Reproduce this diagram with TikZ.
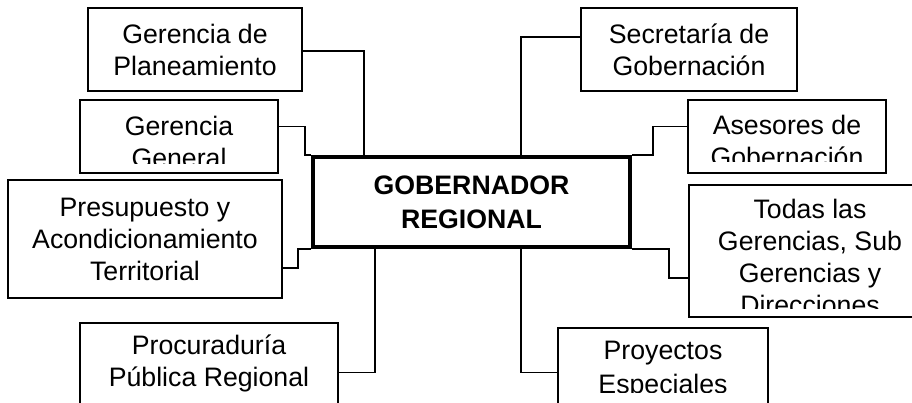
\documentclass[tikz,border=0pt]{standalone}
\usepackage{fontspec}
\setmainfont{Liberation Sans}
\begin{document}
\begin{tikzpicture}[x=1pt,y=-1pt,
                    caja/.style={draw,line width=1.2pt,inner sep=0pt,align=center,font=\fontsize{26.7}{32}\selectfont},
                    jefe/.style={draw,line width=4pt,inner sep=0pt,align=center,font=\bfseries\fontsize{26.7}{34}\selectfont},
                    texto/.style={inner sep=0pt,align=center,font=\fontsize{26.7}{32}\selectfont},
                    linea/.style={line width=1.2pt}]
                          \useasboundingbox (0,0) rectangle (912,403);
                          \clip (0,0) rectangle (912,403);
                          \node[jefe,minimum width=317pt,minimum height=90pt] (gob) at (471.5,202) {GOBERNADOR\\REGIONAL};
                          \node[caja,minimum width=214pt,minimum height=83pt] (plan) at (195,49.5) {Gerencia de\\Planeamiento};
                          \node[caja,minimum width=198pt,minimum height=73pt] (gen) at (179,136.5) {};
                          \node[caja,minimum width=274pt,minimum height=118pt] (pres) at (145,239) {Presupuesto y\\Acondicionamiento\\Territorial};
                          \node[caja,minimum width=258pt,minimum height=110pt] (proc) at (209,378) {};
                          \node[caja,minimum width=216pt,minimum height=83pt] (secr) at (689,49.5) {Secretaría de\\Gobernación};
                          \node[caja,minimum width=198pt,minimum height=73pt] (ases) at (787,136.5) {};
                          \node[caja,minimum width=242pt,minimum height=132pt] (todas) at (810,251) {};
                          \node[caja,minimum width=210pt,minimum height=110pt] (proy) at (663,383) {};
                          % textos recortados por la caja
                          \begin{scope}
                              \clip (gen.north west) rectangle ([yshift=10pt]gen.south east);
                              \node[texto,anchor=north] (tgen) at ([yshift=-17pt]gen.north) {Gerencia\\General};
                          \end{scope}
                          \begin{scope}
                              \clip (ases.north west) rectangle ([yshift=12pt]ases.south east);
                              \node[texto,anchor=north] (tases) at ([yshift=-16pt]ases.north) {Asesores de\\Gobernación};
                          \end{scope}
                          \begin{scope}
                              \clip (todas.north west) rectangle ([yshift=9pt]todas.south east);
                              \node[texto,anchor=north] (ttodas) at ([yshift=-15pt]todas.north) {Todas las\\Gerencias, Sub\\Gerencias y\\Direcciones};
                          \end{scope}
                          \begin{scope}
                              \clip (proy.north west) rectangle ([yshift=46pt]proy.south east);
                              \node[texto,anchor=north,font=\fontsize{26.7}{34}\selectfont] (tproy) at ([yshift=-14pt]proy.north) {Proyectos\\Especiales};
                          \end{scope}
                          \node[texto,anchor=north] (tproc) at ([yshift=-12pt]proc.north) {Procuraduría\\Pública Regional};
                          \draw[linea] ([yshift=-1.5pt]plan.east) -| ([xshift=53pt]gob.north west);
                          \draw[linea] ([yshift=10pt]gen.east) -| ([xshift=-6pt]gob.north west) -- (gob.north west);
                          \draw[linea] ([yshift=-29pt]pres.east) -| ([xshift=-13pt]gob.south west) -- (gob.south west);
                          \draw[linea] ([yshift=-50pt]proc.north east) -| ([xshift=64pt]gob.south west);
                          \draw[linea] ([yshift=12.5pt]secr.west) -| ([xshift=-111pt]gob.north east);
                          \draw[linea] ([yshift=10pt]ases.west) -| ([xshift=21pt]gob.north east) -- (gob.north east);
                          \draw[linea] ([yshift=-27pt]todas.west) -| ([xshift=37pt]gob.south east) -- (gob.south east);
                          \draw[linea] ([yshift=-45pt]proy.north west) -| ([xshift=-111pt]gob.south east);
                      \end{tikzpicture}
\end{document}
